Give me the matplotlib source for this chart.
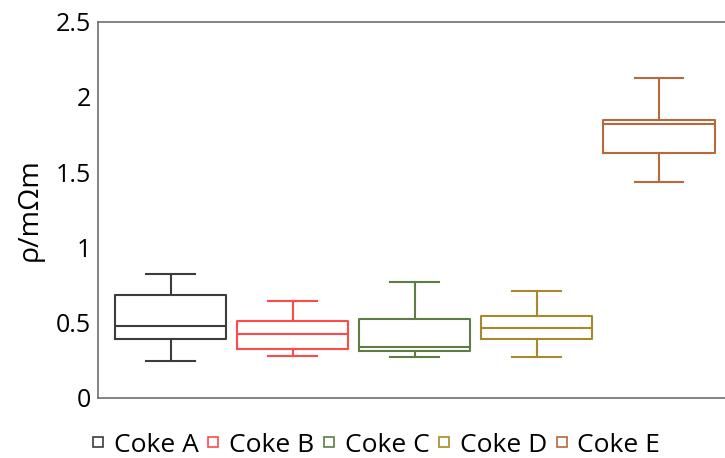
import matplotlib
matplotlib.use("Agg")
import matplotlib.pyplot as plt
from matplotlib.lines import Line2D

plt.rcParams['font.family'] = ['Open Sans', 'DejaVu Sans']
plt.rcParams['font.size'] = 18

# box statistics per coke sample (resistivity, mOhm*m)
names = ['Coke A', 'Coke B', 'Coke C', 'Coke D', 'Coke E']
whislo = [0.246, 0.277, 0.273, 0.273, 1.432]
q1 = [0.390, 0.324, 0.310, 0.390, 1.625]
med = [0.477, 0.426, 0.339, 0.463, 1.820]
q3 = [0.683, 0.510, 0.523, 0.545, 1.844]
whishi = [0.822, 0.643, 0.769, 0.709, 2.128]
colors = ['#3c3c3c', '#ff4a4a', '#5e7d44', '#a68a2a', '#b8683a']

fig = plt.figure(figsize=(7.25, 4.58), dpi=100)
ax = fig.add_axes([98 / 725, 1 - 397.7 / 458, 1 - 98 / 725 + 0.01, 376 / 458])

for i, n in enumerate(names):
    st = [dict(label=n, whislo=whislo[i], q1=q1[i], med=med[i], q3=q3[i],
               whishi=whishi[i], fliers=[])]
    c = colors[i]
    ax.bxp(st, positions=[i + 1], widths=0.91, showfliers=False,
           boxprops=dict(color=c, linewidth=1.5),
           medianprops=dict(color=c, linewidth=1.5),
           whiskerprops=dict(color=c, linewidth=1.5),
           capprops=dict(color=c, linewidth=1.5),
           capwidths=0.4)

ax.set_xlim(0.406, 5.6)
ax.set_ylim(0, 2.5)
ax.set_yticks([0, 0.5, 1, 1.5, 2, 2.5])
ax.set_yticklabels(['0', '0.5', '1', '1.5', '2', '2.5'])
ax.set_xticks([])
ax.tick_params(axis='y', length=0, pad=5)
for s in ['left', 'bottom', 'top']:
    ax.spines[s].set_color('#6e6e6e')
    ax.spines[s].set_linewidth(1.2)
ax.spines['right'].set_visible(False)
ax.set_ylabel('ρ/mΩm', fontsize=20.5, labelpad=9)

handles = [Line2D([], [], linestyle='none', marker='s', markersize=7,
                  markerfacecolor='white', markeredgecolor=c, markeredgewidth=1.2)
           for c in colors]
fig.legend(handles, names, loc='center', bbox_to_anchor=(376 / 725, 1 - 445 / 458),
           ncol=5, frameon=False, handlelength=0.5, handletextpad=0.35,
           columnspacing=0.3, fontsize=19)

fig.savefig('out.png', dpi=100)
